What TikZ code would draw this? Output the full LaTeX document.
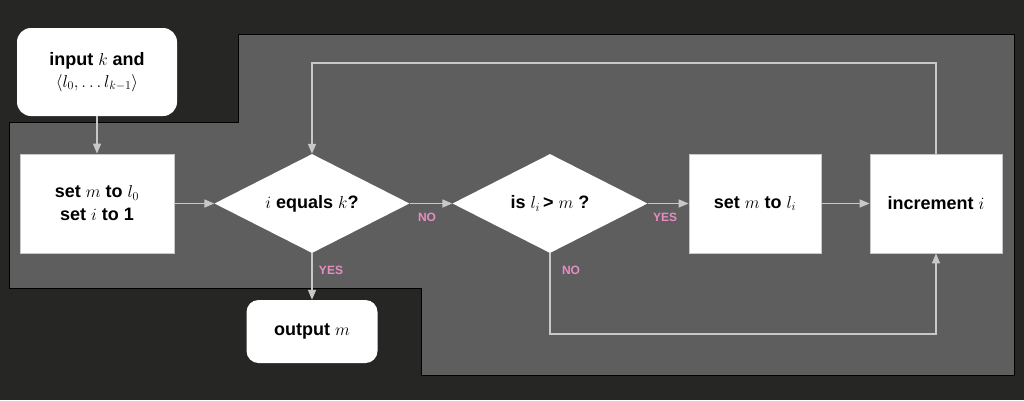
\documentclass[tikz,border=0pt]{standalone}
\usepackage{fontspec}
\setmainfont{Liberation Sans}
\usetikzlibrary{positioning,shapes.geometric,arrows.meta}
\definecolor{bgdark}{HTML}{262624}
\definecolor{panel}{HTML}{5E5E5E}
\definecolor{wire}{HTML}{C8C8C8}
\definecolor{answer}{HTML}{E88CC4}

\begin{document}
\begin{tikzpicture}[x=1pt,y=-1pt,
  stepbox/.style={rectangle,fill=white,draw=wire,line width=0.8pt,minimum width=154pt,minimum height=99pt,align=center,font=\bfseries\fontsize{18}{25}\selectfont},
  endbox/.style={rectangle,rounded corners=14pt,fill=white,align=center,font=\bfseries\fontsize{18}{25}\selectfont},
  test/.style={diamond,fill=white,inner xsep=-16pt,inner ysep=-6pt,minimum width=195pt,minimum height=99pt,font=\bfseries\fontsize{18}{25}\selectfont},
  flow/.style={draw=wire,line width=1.5pt,-{Triangle[length=10pt,width=8pt]}},
  answer/.style={text=answer,font=\bfseries\fontsize{12}{14}\selectfont}]
\useasboundingbox[fill=bgdark] (0,0) rectangle (1024,400);
% the loop region
\draw[fill=panel,draw=black,line width=1pt] (238,34) -- (1014,34) -- (1014,375) -- (421,375) -- (421,288) -- (9,288) -- (9,122) -- (238,122) -- cycle;

\node[endbox,minimum width=160pt,minimum height=88pt] (input) at (97,72) {input $k$ and\\[-3pt] $\langle l_0, \ldots l_{k-1}\rangle$};
\node[stepbox] (setm) at (97,203.5) {set $m$ to $l_0$\\[-2pt] set $i$ to 1};
\node[test] (eq) at (312,203.5) {$i$ equals $k$?};
\node[endbox,minimum width=131pt,minimum height=63pt,rounded corners=12pt] (out) at (312,331.5) {output $m$};
\node[test] (gt) at (550,203.5) {is $l_i$\,> $m$ ?};
\node[stepbox,minimum width=132pt] (setl) at (755,203.5) {set $m$ to $l_i$};
\node[stepbox,minimum width=132pt] (inc) at (936,203.5) {increment $i$};

\coordinate (topturn) at (936,63);
\coordinate (lowturn) at (550,334);

\draw[flow] (input) -- (setm);
\draw[flow] (setm) -- (eq);
\draw[flow] (eq) -- (gt);
\draw[flow] (eq) -- (out);
\draw[flow] (gt) -- (setl);
\draw[flow] (setl) -- (inc);
\draw[flow] (gt.south) -- (lowturn) -| (inc.south);
\draw[flow] (inc.north) -- (topturn) -| (eq.north);

\node[answer] (noA) at (427,217) {NO};
\node[answer] (yesA) at (665,217) {YES};
\node[answer] (noB) at (571,270) {NO};
\node[answer] (yesB) at (331,270) {YES};
\end{tikzpicture}
\end{document}
